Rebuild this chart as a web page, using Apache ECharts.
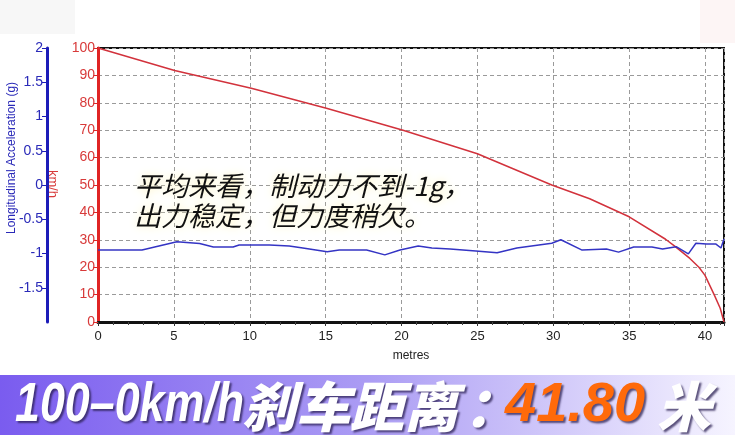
<!DOCTYPE html>
<html>
<head>
<meta charset="utf-8">
<script src="https://cdn.jsdelivr.net/npm/echarts@6/dist/echarts.min.js"></script>
<style>
html,body{margin:0;padding:0;background:#fff;}
#c{width:735px;height:435px;}
</style>
</head>
<body>
<div id="c"></div>
<script>
// Speed (km/h) vs distance (metres)
const speedDistance = [0, 5.05, 10.1, 15.05, 20.1, 25, 29.9, 32.4, 35, 37.4, 38.0, 39.0, 39.6, 40.0, 40.6, 41.0, 41.25];
const speedValues   = [100, 91.8, 85.3, 78.0, 70, 61.4, 50, 45.0, 38.4, 30.2, 27.7, 23.2, 20, 17, 10, 5, 0];

// Longitudinal acceleration (g) vs distance (metres)
const accDistance = [0, 2.9, 5.2, 6.7, 7.6, 8.9, 9.3, 11.3, 12.6, 13.5, 15.1, 15.9, 17.7, 18.9, 19.9, 21.1, 22.0, 23.2, 24.9, 26.3, 27.6, 29.9, 30.5, 31.9, 33.5, 34.3, 35.3, 36.5, 37.2, 38.1, 38.9, 39.4, 40.1, 40.7, 41.05, 41.25];
const accValues   = [-0.95, -0.95, -0.83, -0.855, -0.905, -0.905, -0.876, -0.876, -0.89, -0.92, -0.975, -0.95, -0.95, -1.02, -0.95, -0.89, -0.92, -0.935, -0.965, -0.99, -0.92, -0.85, -0.80, -0.95, -0.935, -0.98, -0.905, -0.905, -0.935, -0.90, -1.005, -0.85, -0.86, -0.86, -0.92, -0.79];

const xTickInterval = 5;
const speedAxisMax = 100;
const accAxisMin = -2, accAxisMax = 2;

const annotationLines = ['平均来看，制动力不到-1g，', '出力稳定，但力度稍欠。'];
const bannerParts = ['100–0km/h', '刹车距离', '：', '41.80', '米'];

const speedData = speedDistance.map((d, i) => [d, speedValues[i]]);
const accData = accDistance.map((d, i) => [d, accValues[i]]);

const chart = echarts.init(document.getElementById('c'), null, {renderer: 'canvas'});

const bannerTextStyle = {
  fontFamily: '"Liberation Sans", Arial, sans-serif',
  fontSize: 56,
  fontWeight: 'bold',
  fontStyle: 'italic',
  verticalAlign: 'middle',
  textShadowColor: 'rgba(40,30,80,0.75)',
  textShadowBlur: 2,
  textShadowOffsetX: 2,
  textShadowOffsetY: 2
};
const cjkBanner = {fontFamily: '"Noto Sans CJK SC", sans-serif', fontWeight: 900, fontSize: 54};

chart.setOption({
  animation: false,
  backgroundColor: '#ffffff',
  grid: {
    left: 98, right: 11, top: 48, bottom: 113,
    show: true, borderColor: '#111', borderWidth: 2, backgroundColor: 'transparent'
  },
  xAxis: {
    type: 'value', min: 0, max: 41.25, interval: xTickInterval,
    axisLine: {lineStyle: {color: '#111', width: 3}},
    axisTick: {length: 4, lineStyle: {color: '#333'}},
    minorTick: {show: true, splitNumber: 5, length: 3, lineStyle: {color: '#444'}},
    axisLabel: {showMaxLabel: false, color: '#222', fontSize: 13, margin: 8, fontFamily: '"Liberation Sans", Arial, sans-serif'},
    splitLine: {show: true, lineStyle: {color: '#9a9a9a', type: [4, 3], width: 1}},
    name: 'metres', nameLocation: 'middle', nameGap: 28,
    nameTextStyle: {color: '#222', fontSize: 12, fontFamily: '"Liberation Sans", Arial, sans-serif'}
  },
  yAxis: [
    {
      type: 'value', min: 0, max: speedAxisMax, interval: 10, position: 'left',
      axisLine: {show: true, lineStyle: {color: '#e02424', width: 3}},
      axisTick: {show: true, length: 5, lineStyle: {color: '#e02424'}},
      axisLabel: {color: '#d83a3a', fontSize: 14, margin: 3, fontFamily: '"Liberation Sans", Arial, sans-serif'},
      splitLine: {show: true, lineStyle: {color: '#9a9a9a', type: [4, 3], width: 1}}
    },
    {
      type: 'value', min: accAxisMin, max: accAxisMax, interval: 0.5, position: 'left', offset: 51,
      axisLine: {show: true, lineStyle: {color: '#1c1cb8', width: 3}},
      axisTick: {show: true, length: 5, lineStyle: {color: '#1c1cb8'}},
      axisLabel: {showMinLabel: false, color: '#2a2ab8', fontSize: 14, margin: 4, fontFamily: '"Liberation Sans", Arial, sans-serif'},
      splitLine: {show: false}
    }
  ],
  series: [
    {
      type: 'line', yAxisIndex: 0, data: speedData, showSymbol: false, smooth: false,
      lineStyle: {color: '#d2323c', width: 1.5}, z: 3
    },
    {
      type: 'line', yAxisIndex: 1, data: accData, showSymbol: false, smooth: false,
      lineStyle: {color: '#3434c4', width: 1.5}, z: 4
    }
  ],
  graphic: [
    {type: 'rect', left: 0, top: 0, shape: {width: 75, height: 34}, style: {fill: '#f7f7f7'}, z: -10},
    {type: 'rect', left: 700, top: 0, shape: {width: 35, height: 43}, style: {fill: '#fdf5f5'}, z: -10},
    {
      type: 'text', x: 12, y: 158, rotation: Math.PI / 2,
      style: {text: 'Longitudinal Acceleration (g)', fill: '#2a2ab8', fontSize: 12,
        fontFamily: '"Liberation Sans", Arial, sans-serif', align: 'center', verticalAlign: 'middle'}
    },
    {
      type: 'text', x: 53, y: 184, rotation: -Math.PI / 2,
      style: {text: 'km/h', fill: '#d83a3a', fontSize: 13,
        fontFamily: '"Liberation Sans", Arial, sans-serif', align: 'center', verticalAlign: 'middle'}
    },
    {
      type: 'text', x: 134, y: 171, z: 20,
      style: {
        text: annotationLines.join('\n'), fill: '#111', fontSize: 27, lineHeight: 30,
        fontStyle: 'italic', fontFamily: '"Noto Sans CJK SC", sans-serif',
        textShadowColor: 'rgba(255,245,190,1)', textShadowBlur: 8
      }
    },
    {
      type: 'rect', left: 0, top: 375, z: 30,
      shape: {width: 735, height: 60},
      style: {fill: new echarts.graphic.LinearGradient(0, 0, 1, 0, [
        {offset: 0, color: '#7a5cef'},
        {offset: 0.5, color: '#ab9cf4'},
        {offset: 1, color: '#f6f4ff'}
      ])}
    },
    {type: 'text', x: 15, y: 406, scaleX: 0.8, z: 31,
      style: Object.assign({text: bannerParts[0], fill: '#ffffff'}, bannerTextStyle)},
    {type: 'text', x: 242, y: 406, z: 31,
      style: Object.assign({}, bannerTextStyle, cjkBanner, {text: bannerParts[1], fill: '#ffffff'})},
    {type: 'text', x: 464, y: 406, z: 31,
      style: Object.assign({}, bannerTextStyle, cjkBanner, {text: bannerParts[2], fill: '#ffffff'})},
    {type: 'text', x: 505, y: 406, z: 31,
      style: Object.assign({}, bannerTextStyle, {text: bannerParts[3], fill: '#ff6a0a'})},
    {type: 'text', x: 657, y: 406, z: 31,
      style: Object.assign({}, bannerTextStyle, cjkBanner, {text: bannerParts[4], fill: '#ffffff'})}
  ]
});
</script>
</body>
</html>
